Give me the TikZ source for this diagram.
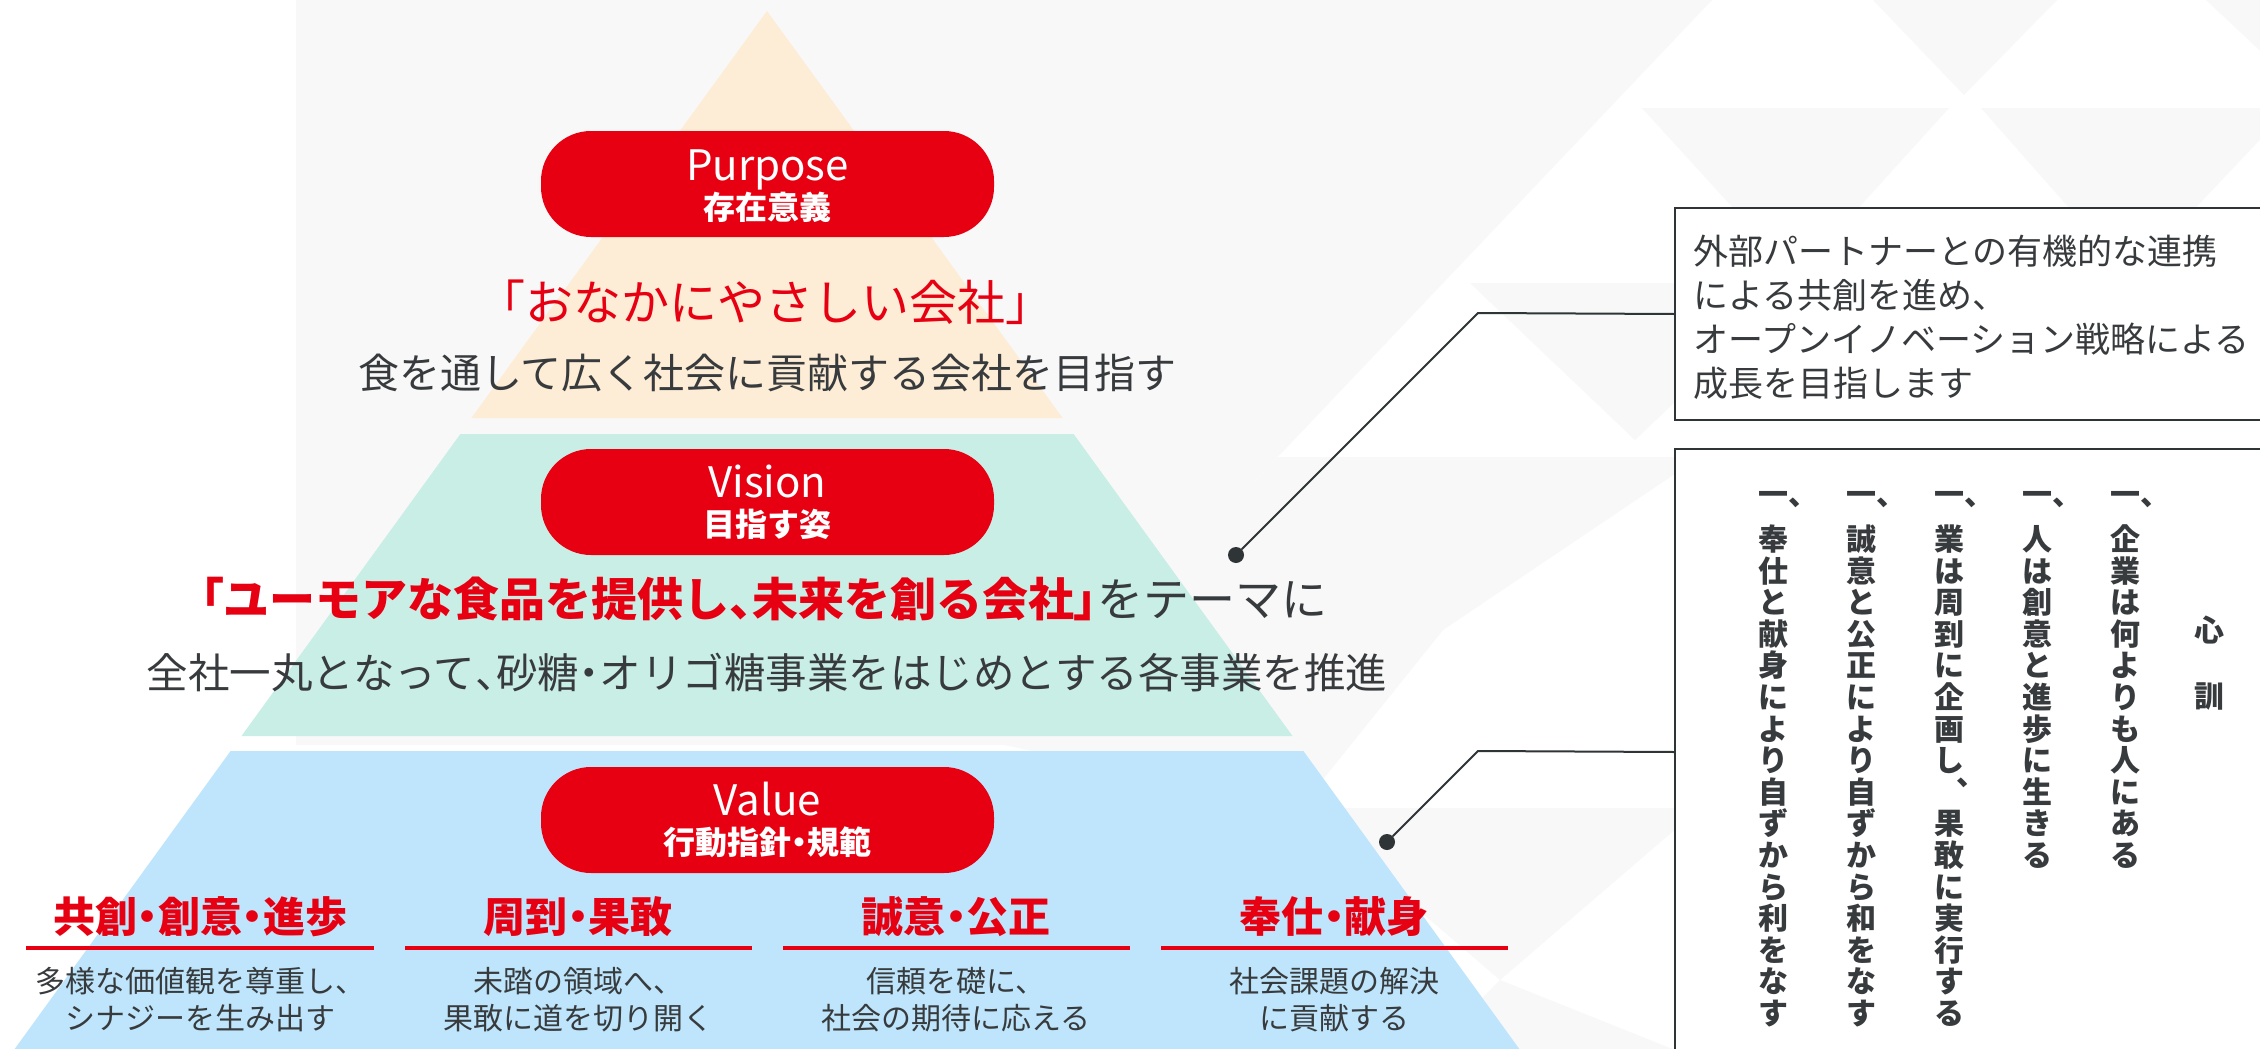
\documentclass[tikz,border=0pt]{standalone}
\usepackage{fontspec}
\setmainfont{Noto Sans CJK JP}
\newfontfamily\jp{Noto Sans CJK JP}
\newfontfamily\jpp{Noto Sans CJK JP}[RawFeature=+palt]
\newcommand\fsz[1]{\fontsize{#1pt}{#1pt}\selectfont}
\newcommand\hp[1]{{\jpp #1}}
\definecolor{jred}{HTML}{E60012}
\definecolor{beige}{HTML}{FDEDD6}
\definecolor{mint}{HTML}{C9EEE6}
\definecolor{sky}{HTML}{BEE5FB}
\definecolor{ink}{HTML}{383B3D}
\definecolor{boxline}{HTML}{2F3437}
\definecolor{bgA}{HTML}{F8F8F8}
\newcommand\tate[4]{\foreach \ch [count=\k from 0] in {#4} {\node[vchar] (#1-\k) at (#2,{#3+31.6*\k}) {\ch};}}
\begin{document}
\begin{tikzpicture}[x=1pt,y=-1pt,
  lbl/.style={inner sep=0pt, anchor=base},
  pill/.style={fill=jred, rounded corners=50pt, minimum width=453pt, minimum height=106pt, inner sep=0pt},
  box/.style={draw=boxline, line width=2pt, fill=white, anchor=north west, minimum width=620pt, inner sep=0pt},
  conn/.style={draw=boxline, line width=2pt},
  dotn/.style={circle, fill=boxline, minimum size=16pt, inner sep=0pt},
  vchar/.style={inner sep=0pt, anchor=base, font=\jp\bfseries\fsz{30}, text=ink},
  uline/.style={jred, line width=4pt}]
\useasboundingbox (0,0) rectangle (2260,1049);
\clip (0,0) rectangle (2260,1049);
% background
\fill[white] (0,0) rectangle (2260,1049);
\fill[bgA] (296,0) -- (1712,0) -- (1004,745) -- (296,745) -- cycle;
\fill[bgA] (1873,0) -- (2057,0) -- (1964,95) -- cycle;
\fill[bgA] (2206,0) -- (2270,0) -- (2270,60) -- cycle;
\fill[bgA] (1642,108) -- (1949,108) -- (1796,277) -- cycle;
\fill[bgA] (1981,108) -- (2290,108) -- (2130,277) -- cycle;
\fill[bgA] (1470,283) -- (1800,283) -- (1635,440) -- cycle;
\fill[bgA] (1004,745) -- (1278,457) -- (1700,457) -- (1443,630) -- (1300,808) -- cycle;
\fill[bgA] (1300,808) -- (1700,808) -- (1500,980) -- cycle;
\fill[bgA] (1500,980) -- (1700,1060) -- (1420,1060) -- cycle;
% pyramid
\fill[beige] (767,11) -- (1062.6,418) -- (471.4,418) -- cycle;
\fill[mint] (460.4,434) -- (1073.6,434) -- (1292.5,736) -- (241.5,736) -- cycle;
\fill[sky] (230.6,751) -- (1303.4,751) -- (1527.3,1060) -- (6.7,1060) -- cycle;
% pills
\node[pill] (purpose) at (767.5,184) {};
\node[pill] (vision) at (767.5,502) {};
\node[pill] (value) at (767.5,820) {};
\node[lbl, text=white, font=\jp\fsz{42}] (purposeT) at (767.5,180) {Purpose};
\node[lbl, text=white, font=\jp\bfseries\fsz{32}] (purposeS) at (767.5,219) {存在意義};
\node[lbl, text=white, font=\jp\fsz{42}] (visionT) at (767.5,497) {Vision};
\node[lbl, text=white, font=\jp\bfseries\fsz{32}] (visionS) at (767.5,536) {目指す姿};
\node[lbl, text=white, font=\jp\fsz{42}] (valueT) at (767.5,815) {Value};
\node[lbl, text=white, font=\jpp\bfseries\fsz{32}] (valueS) at (767.5,854) {行動指針・規範};
% purpose texts
\node[lbl, text=jred, font=\jp\fsz{48}] (purposeM) at (765,320) {「おなかにやさしい会社」};
\node[lbl, text=ink, font=\jp\fsz{41}] (purposeD) at (767.5,388) {食を通して広く社会に貢献する会社を目指す};
% vision texts
\node[lbl, text=ink, font=\jp\fsz{46}] (visionM) at (764,616) {{\color{jred}\bfseries\hp{「}ユーモアな食品を提供し\hp{、}未来を創る会社\hp{」}}をテーマに};
\node[lbl, text=ink, font=\jp\fsz{41.5}] (visionD) at (767,688) {全社一丸となって\hp{、}砂糖\hp{・}オリゴ糖事業をはじめとする各事業を推進};
% value columns
\node[lbl, text=jred, font=\jpp\bfseries\fsz{42}] (h1) at (200,932) {共創・創意・進歩};
\node[lbl, text=jred, font=\jpp\bfseries\fsz{42}] (h2) at (578,932) {周到・果敢};
\node[lbl, text=jred, font=\jpp\bfseries\fsz{42}] (h3) at (956,932) {誠意・公正};
\node[lbl, text=jred, font=\jpp\bfseries\fsz{42}] (h4) at (1334,932) {奉仕・献身};
\coordinate (u1a) at (26,948); \coordinate (u1b) at (374,948);
\coordinate (u2a) at (405,948); \coordinate (u2b) at (752,948);
\coordinate (u3a) at (783,948); \coordinate (u3b) at (1130,948);
\coordinate (u4a) at (1161,948); \coordinate (u4b) at (1508,948);
\draw[uline] (u1a) -- (u1b);
\draw[uline] (u2a) -- (u2b);
\draw[uline] (u3a) -- (u3b);
\draw[uline] (u4a) -- (u4b);
\node[lbl, text=ink, font=\jp\fsz{30}] (d1a) at (200,992.4) {多様な価値観を尊重し、};
\node[lbl, text=ink, font=\jp\fsz{30}] (d1b) at (200,1029.4) {シナジーを生み出す};
\node[lbl, text=ink, font=\jp\fsz{30}] (d2a) at (578,992.4) {未踏の領域へ、};
\node[lbl, text=ink, font=\jp\fsz{30}] (d2b) at (578,1029.4) {果敢に道を切り開く};
\node[lbl, text=ink, font=\jp\fsz{30}] (d3a) at (956,992.4) {信頼を礎に、};
\node[lbl, text=ink, font=\jp\fsz{30}] (d3b) at (956,1029.4) {社会の期待に応える};
\node[lbl, text=ink, font=\jp\fsz{30}] (d4a) at (1334,992.4) {社会課題の解決};
\node[lbl, text=ink, font=\jp\fsz{30}] (d4b) at (1334,1029.4) {に貢献する};
% right boxes
\node[box, minimum height=212pt] (box1) at (1674,207) {};
\node[box, minimum height=606pt] (box2) at (1674,448) {};
\node[lbl, anchor=base west, text=ink, font=\jp\fsz{35}] (b1l1) at (1693,264) {外部パートナーとの有機的な連携};
\node[lbl, anchor=base west, text=ink, font=\jp\fsz{35}] (b1l2) at (1693,308) {による共創を進め、};
\node[lbl, anchor=base west, text=ink, font=\jp\fsz{35}] (b1l3) at (1693,352) {オープンイノベーション戦略による};
\node[lbl, anchor=base west, text=ink, font=\jp\fsz{35}] (b1l4) at (1693,396) {成長を目指します};
% connectors
\node[dotn] (dot1) at (1236,555) {};
\node[dotn] (dot2) at (1387,842) {};
\coordinate (elbow1) at (1478,313);
\coordinate (elbow2) at (1478,751);
\draw[conn] (dot1) -- (elbow1) -- (box1.west);
\draw[conn] (dot2) -- (elbow2) -- (box2.west);
% vertical creed
\node[vchar] (shin) at (2209,641.4) {心};
\node[vchar] (kun) at (2209,707.4) {訓};
\node[vchar, anchor=base west] (i1) at (2110,505.4) {一、};
\node[vchar, anchor=base west] (i2) at (2022,505.4) {一、};
\node[vchar, anchor=base west] (i3) at (1934,505.4) {一、};
\node[vchar, anchor=base west] (i4) at (1846,505.4) {一、};
\node[vchar, anchor=base west] (i5) at (1758,505.4) {一、};
\tate{c1}{2125}{550.4}{企,業,は,何,よ,り,も,人,に,あ,る}
\tate{c2}{2037}{550.4}{人,は,創,意,と,進,歩,に,生,き,る}
\tate{c3a}{1949}{550.4}{業,は,周,到,に,企,画,し}
\node[vchar, anchor=base west] (c3t) at (1956,785) {、};
\tate{c3b}{1949}{834.8}{果,敢,に,実,行,す,る}
\tate{c4}{1861}{550.4}{誠,意,と,公,正,に,よ,り,自,ず,か,ら,和,を,な,す}
\tate{c5}{1773}{550.4}{奉,仕,と,献,身,に,よ,り,自,ず,か,ら,利,を,な,す}
\end{tikzpicture}
\end{document}
